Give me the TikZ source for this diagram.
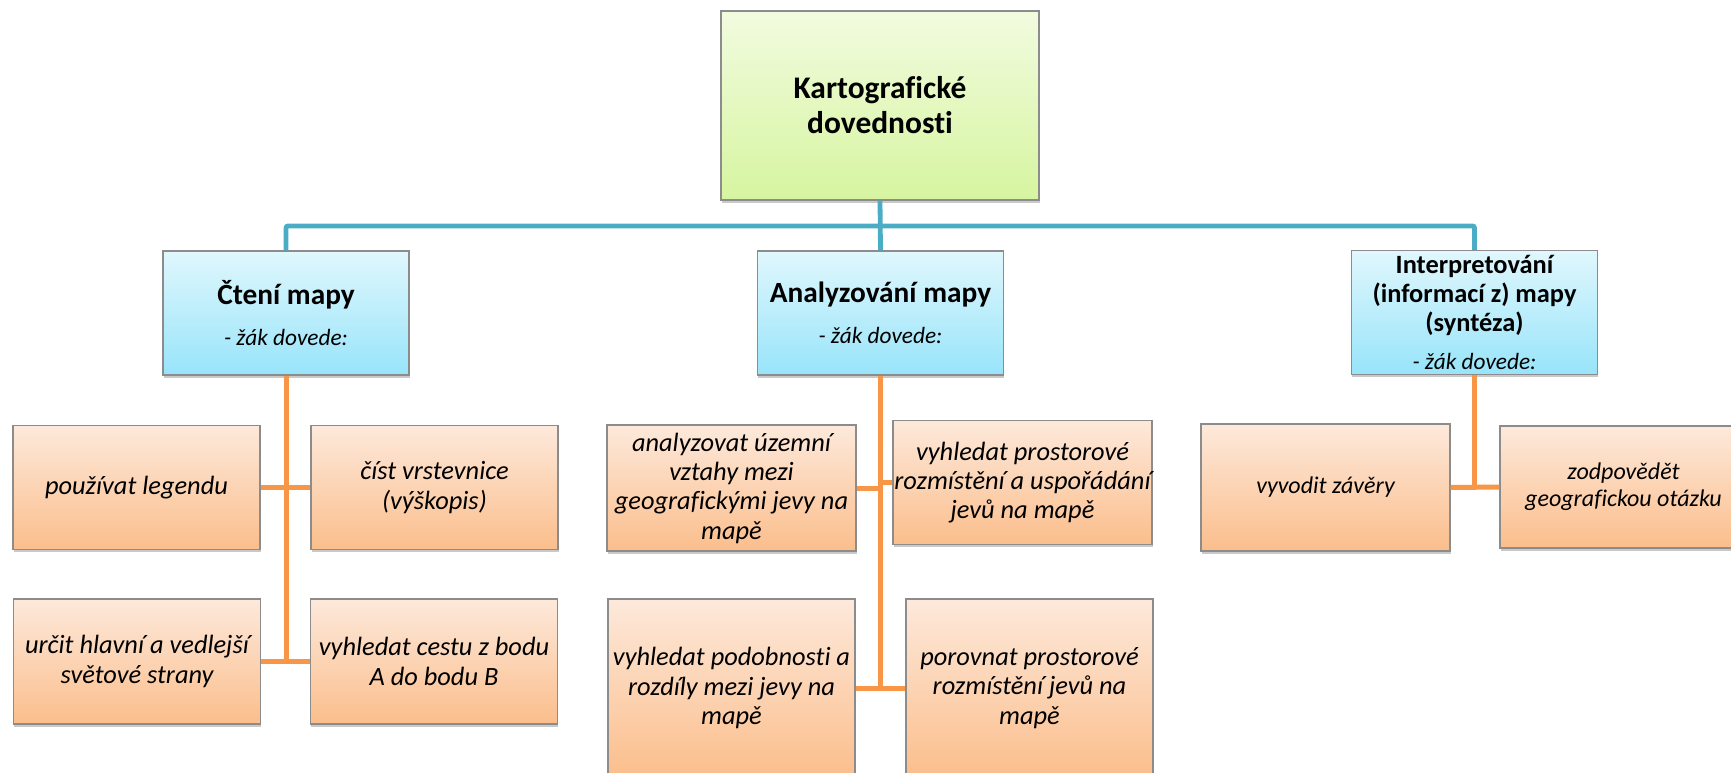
\documentclass[tikz,border=0pt]{standalone}
\usepackage{fontspec}
\setmainfont{Carlito}[Ligatures=CommonOff]
\usetikzlibrary{shadows}
\definecolor{gtop}{RGB}{242,251,223}
\definecolor{gbot}{RGB}{214,245,160}
\definecolor{btop}{RGB}{224,247,253}
\definecolor{bbot}{RGB}{152,228,250}
\definecolor{otop}{RGB}{253,233,219}
\definecolor{obot}{RGB}{251,190,140}
\definecolor{bline}{RGB}{75,172,198}
\definecolor{oline}{RGB}{247,150,70}
\definecolor{bord}{RGB}{140,140,140}
\newcommand{\topfnt}{\fontsize{23.6pt}{26.25pt}\selectfont\bfseries}
\newcommand{\ttlfnt}{\fontsize{22pt}{24.2pt}\selectfont\bfseries}
\newcommand{\ttlsfnt}{\fontsize{19.8pt}{22pt}\selectfont\bfseries}
\newcommand{\subfnt}{\fontsize{17.5pt}{19.2pt}\selectfont\mdseries\itshape}
\newcommand{\orfnt}{\fontsize{19.8pt}{22pt}\selectfont\itshape}
\newcommand{\orsfnt}{\fontsize{18pt}{20.25pt}\selectfont\itshape}
\begin{document}
\begin{tikzpicture}[x=0.75pt,y=-0.75pt,
  box/.style={draw=bord, line width=0.9pt, align=center, inner sep=1pt,
    drop shadow={shadow xshift=0.6pt, shadow yshift=-2.2pt, opacity=0.3, fill=black!70}},
  topbox/.style={box, top color=gtop, bottom color=gbot, font=\topfnt,
    minimum width=238.5pt, minimum height=141.75pt},
  bluebox/.style={box, top color=btop, bottom color=bbot, font=\ttlfnt,
    minimum width=184.5pt, minimum height=93pt},
  obox/.style={box, top color=otop, bottom color=obot, font=\orfnt,
    minimum width=185.25pt, minimum height=93pt},
  bl/.style={draw=bline, line width=3.6pt},
  ol/.style={draw=oline, line width=3.75pt}]
\useasboundingbox (0,0) rectangle (1731,772);
\clip (0,0) rectangle (1731,772);
% top level
\node[topbox] (top) at (880,105.5) {Kartografické\\dovednosti};
% second level
\node[bluebox] (cl) at (286,313) {Čtení mapy\\[6.5pt]\subfnt - žák dovede:};
\node[bluebox] (cm) at (880.5,313) {Analyzování mapy\\[6.5pt]\subfnt - žák dovede:};
\node[bluebox, font=\ttlsfnt] (cr) at (1474.5,312.5) {Interpretování\\(informací z) mapy\\(syntéza)\\[6.5pt]\subfnt - žák dovede:};
% third level, left
\node[obox] (L1a) at (136.5,487.5) {používat legendu};
\node[obox] (L1b) at (434.5,487.5) {číst vrstevnice\\(výškopis)};
\node[obox, minimum height=93.75pt] (L2a) at (137,661.5) {určit hlavní a vedlejší\\světové strany};
\node[obox, minimum height=93.75pt] (L2b) at (434,661.5) {vyhledat cestu z bodu\\A do bodu B};
% third level, middle
\node[obox, minimum height=94.5pt, minimum width=186.75pt] (M1a) at (731.5,488) {analyzovat územní\\vztahy mezi\\geografickými jevy na\\mapě};
\node[obox] (M1b) at (1022.5,482.5) {vyhledat prostorové\\rozmístění a uspořádání\\jevů na mapě};
\node[obox, minimum height=133.5pt] (M2a) at (731.5,688) {vyhledat podobnosti a\\rozdíly mezi jevy na\\mapě};
\node[obox, minimum height=133.5pt] (M2b) at (1029.5,688) {porovnat prostorové\\rozmístění jevů na\\mapě};
% third level, right
\node[obox, font=\orsfnt, minimum width=186.75pt, minimum height=95.25pt] (R1a) at (1325.5,487.5) {vyvodit závěry};
\node[obox, font=\orsfnt, minimum height=91.5pt] (R1b) at (1623.5,487) {zodpovědět\\geografickou otázku};
% blue connectors
\coordinate (bus) at (880,226);
\draw[bl] (top.south) -- (cm.north);
\draw[bl, rounded corners=1.5pt] (cl.north) |- (bus) -| (cr.north);
% orange connectors
\draw[ol] (cl.south) -- (cl.south |- L2a.east);
\draw[ol] (L1a.east) -- (L1b.west);
\draw[ol] (L2a.east) -- (L2b.west);
\draw[ol] (cm.south) -- (cm.south |- M2a.east);
\draw[ol] (M1a.east) -- (M1a.east -| cm.south);
\draw[ol] (M1b.west) -- (M1b.west -| cm.south);
\draw[ol] (M2a.east) -- (M2b.west);
\draw[ol] (cr.south) -- (cr.south |- R1a.east);
\draw[ol] (R1a.east) -- (R1b.west);
\end{tikzpicture}
\end{document}
